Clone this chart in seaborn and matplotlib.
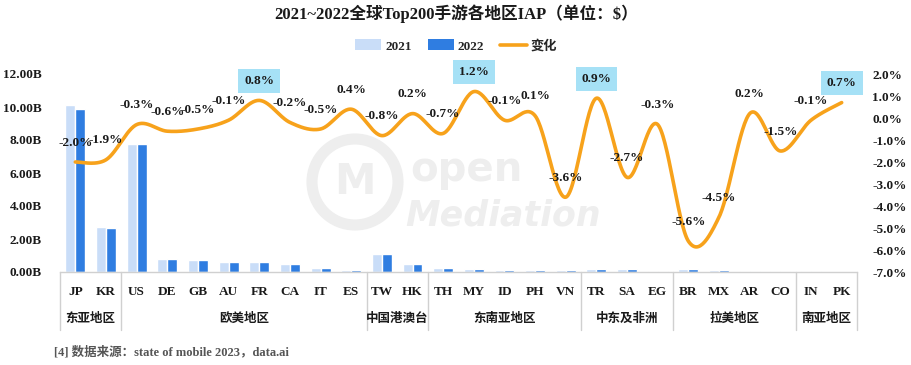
import numpy as np
import pandas as pd
import matplotlib
matplotlib.use("Agg")
import matplotlib.pyplot as plt
import matplotlib.transforms as mtransforms
from matplotlib.patches import Patch, Circle
from matplotlib.lines import Line2D
import seaborn as sns

# ---------------- data ----------------
codes = ["JP", "KR", "US", "DE", "GB", "AU", "FR", "CA", "IT", "ES", "TW", "HK",
         "TH", "MY", "ID", "PH", "VN", "TR", "SA", "EG", "BR", "MX", "AR", "CO", "IN", "PK"]
iap_2021 = [10.1, 2.75, 7.76, 0.79, 0.73, 0.61, 0.61, 0.49, 0.27, 0.15, 1.10, 0.50,
            0.26, 0.18, 0.13, 0.12, 0.12, 0.18, 0.18, 0.05, 0.18, 0.13, 0.04, 0.05, 0.05, 0.02]
iap_2022 = [9.9, 2.67, 7.74, 0.78, 0.72, 0.61, 0.61, 0.48, 0.26, 0.15, 1.10, 0.50,
            0.26, 0.18, 0.13, 0.12, 0.12, 0.18, 0.18, 0.05, 0.18, 0.13, 0.04, 0.05, 0.05, 0.02]
change = [-2.0, -1.9, -0.3, -0.6, -0.5, -0.1, 0.8, -0.2, -0.5, 0.4, -0.8, 0.2,
          -0.7, 1.2, -0.1, 0.1, -3.6, 0.9, -2.7, -0.3, -5.6, -4.5, 0.2, -1.5, -0.1, 0.7]
highlight = ["FR", "MY", "TR", "PK"]
groups = ["东亚地区", "欧美地区", "中国港澳台", "东南亚地区", "中东及非洲", "拉美地区", "南亚地区"]
group_sizes = [2, 8, 2, 5, 3, 4, 2]
years = ["2021", "2022"]
title = "2021~2022全球Top200手游各地区IAP（单位：$）"
footnote = "[4] 数据来源：state of mobile 2023，data.ai"

# ---------------- style ----------------
sns.set_style("white")
plt.rcParams["font.family"] = ["Liberation Serif", "Noto Sans CJK SC"]
plt.rcParams["font.weight"] = "bold"

c21, c22, cline, cbox = "#c9ddf8", "#2f7de1", "#f7a21b", "#a6e1f6"
txt = "#1a1a1a"

fig = plt.figure(figsize=(9.12, 3.65), dpi=100)
ax = fig.add_axes([60 / 912, 1 - 272 / 365, 797 / 912, 198 / 365])

# watermark (very faint)
wm = "#eeeeee"
fig.patches.append(Circle((3.55, (365 - 182) / 100), 0.43, transform=fig.dpi_scale_trans,
                          fill=False, ec=wm, lw=8, zorder=0))
fig.text(355 / 912, 1 - 182 / 365, "M", fontsize=30, color=wm, ha="center", va="center",
         family="DejaVu Sans", zorder=0)
fig.text(410 / 912, 1 - 170 / 365, "open", fontsize=29, color=wm, va="center",
         family="DejaVu Sans", zorder=0)
fig.text(405 / 912, 1 - 215 / 365, "Mediation", fontsize=25, color=wm, va="center",
         family="DejaVu Sans", style="italic", zorder=0)
ax.patch.set_alpha(0)

df = pd.DataFrame({
    "code": codes * 2,
    "value": iap_2021 + iap_2022,
    "year": [years[0]] * len(codes) + [years[1]] * len(codes),
})
sns.barplot(data=df, x="code", y="value", hue="year", palette=[c21, c22],
            width=0.65, ax=ax, legend=False, saturation=1, zorder=2)
ax.set_xlim(-0.5, len(codes) - 0.5)
ax.set_ylim(0, 12)
ax.set_yticks(np.arange(0, 12.01, 2))
ax.set_yticklabels([f"{v:.2f}B" for v in np.arange(0, 12.01, 2)], fontsize=9.5,
                   fontweight="bold", color=txt)
ax.set_xlabel("")
ax.set_ylabel("")
ax.set_xticks(range(len(codes)))
ax.set_xticklabels(codes, fontsize=9.5, fontweight="bold", color=txt)
ax.tick_params(axis="x", length=0, pad=10)
ax.tick_params(axis="y", length=0, pad=13)
for s in ["top", "right", "left"]:
    ax.spines[s].set_visible(False)
ax.spines["bottom"].set_color("#d0d0d0")
ax.spines["bottom"].set_linewidth(1)

# group labels and separators
trans = mtransforms.blended_transform_factory(ax.transData, ax.transAxes)
pos = -0.5
sep_low = -58 / 198
ax.plot([pos, pos], [0, sep_low], transform=trans, color="#d0d0d0", lw=1, clip_on=False)
for g, n in zip(groups, group_sizes):
    center = pos + n / 2
    ax.text(center, -47 / 198, g, transform=trans, ha="center", va="center",
            fontsize=9, fontweight="bold", color=txt)
    pos += n
    ax.plot([pos, pos], [0, sep_low], transform=trans, color="#d0d0d0", lw=1, clip_on=False)

# line on secondary axis (smoothed, Catmull-Rom like Excel)
ax2 = ax.twinx()
ax2.set_ylim(-7, 2)
ax2.set_yticks(np.arange(-7, 2.01, 1))
ax2.set_yticklabels([f"{v:.1f}%" for v in np.arange(-7, 2.01, 1)], fontsize=9.5,
                    fontweight="bold", color=txt)
ax2.tick_params(axis="y", length=0, pad=11)
for s in ax2.spines.values():
    s.set_visible(False)

xp = np.arange(len(change), dtype=float)
yp = np.array(change, dtype=float)
P = np.concatenate([[yp[0]], yp, [yp[-1]]])
X = np.concatenate([[xp[0]], xp, [xp[-1]]])
sx, sy = [], []
for i in range(1, len(P) - 2):
    t = np.linspace(0, 1, 30, endpoint=False)
    for arr, out in ((X, sx), (P, sy)):
        p0, p1, p2, p3 = arr[i - 1], arr[i], arr[i + 1], arr[i + 2]
        out.extend(0.5 * ((2 * p1) + (-p0 + p2) * t + (2 * p0 - 5 * p1 + 4 * p2 - p3) * t ** 2
                          + (-p0 + 3 * p1 - 3 * p2 + p3) * t ** 3))
sx.append(xp[-1]); sy.append(yp[-1])
sns.lineplot(x=sx, y=sy, ax=ax2, color=cline, lw=2.6, sort=False, estimator=None, zorder=3)

# data labels
for i, (c, v) in enumerate(zip(codes, change)):
    kw = dict(ha="center", va="center", fontsize=9.5, fontweight="bold", color=txt,
              zorder=5, textcoords="offset points", xytext=(0, 14))
    if c in highlight:
        kw["bbox"] = dict(boxstyle="square,pad=0.45", fc=cbox, ec="none")
    ax2.annotate(f"{v:.1f}%", (i, v), **kw)

# legend
handles = [Patch(fc=c21, ec="none"), Patch(fc=c22, ec="none"),
           Line2D([], [], color=cline, lw=2.6)]
fig.legend(handles, years + ["变化"], loc="center", bbox_to_anchor=(0.5, 1 - 46 / 365),
           ncol=3, frameon=False, handlelength=2.0, handleheight=0.9,
           columnspacing=1.2, handletextpad=0.3, prop={"weight": "bold", "size": 9.5})

fig.text(0.5, 1 - 14 / 365, title, ha="center", va="center", fontsize=12,
         fontweight="bold", color=txt)
fig.text(54 / 912, 1 - 352 / 365, footnote, ha="left", va="center", fontsize=9,
         fontweight="bold", color="#555555")

fig.savefig("out.png", dpi=100)
